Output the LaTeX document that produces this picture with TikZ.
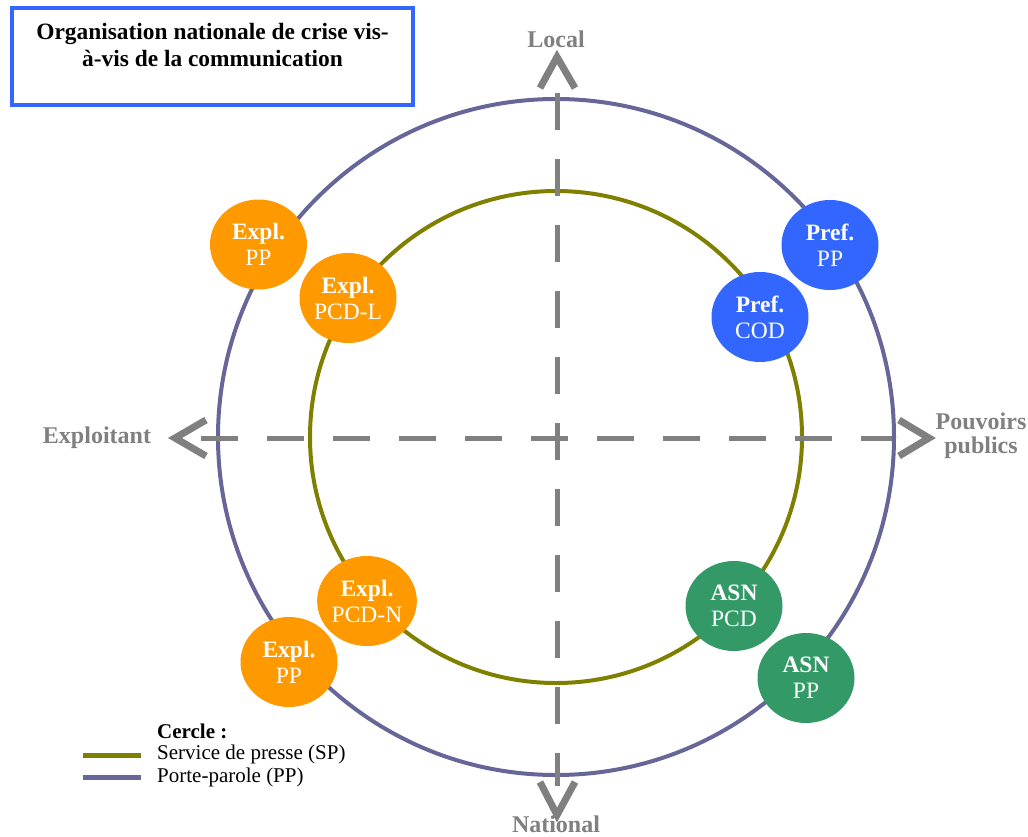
\documentclass[tikz,border=0pt]{standalone}
\usepackage{fontspec}
\setmainfont{Liberation Serif}
\definecolor{orgc}{HTML}{FF9900}
\definecolor{bluec}{HTML}{3366FF}
\definecolor{greenc}{HTML}{339966}
\definecolor{outerc}{HTML}{666699}
\definecolor{innerc}{HTML}{808000}
\definecolor{axisc}{HTML}{808080}
\begin{document}
\begin{tikzpicture}[x=1pt,y=-1pt,
  actor/.style={ellipse, minimum width=97pt, minimum height=90pt, inner sep=0pt, text=white, align=center,
    font=\fontsize{23.5}{26}\selectfont},
  axisline/.style={draw=axisc, line width=5pt, dash pattern=on 37pt off 29pt},
  chevron/.style={draw=axisc, line width=7pt, miter limit=10},
  axislabel/.style={text=axisc, font=\fontsize{24}{25}\selectfont\bfseries, align=center, inner sep=0pt},
  legtext/.style={anchor=west, inner sep=0pt, font=\fontsize{21}{23}\selectfont}
]
\usetikzlibrary{shapes.geometric}
\useasboundingbox (0,0) rectangle (1028,836);
\fill[white] (0,0) rectangle (1028,836);

% title
\node[draw=bluec, line width=4pt, minimum width=401pt, minimum height=97pt, inner sep=0pt] (titlebox) at (212.5,56.5) {};
\node[align=center, font=\fontsize{23.4}{27}\selectfont\bfseries, inner sep=0pt, anchor=north] (title) at (212.5,23)
  {Organisation nationale de crise vis-\\à-vis de la communication};

% circles
\coordinate (c) at (556,437);
\draw[outerc, line width=4pt] (c) circle[radius=338];
\draw[innerc, line width=4pt] (c) circle[radius=246];

% axes
\coordinate (vtop) at (557,93);
\coordinate (vbot) at (557,786);
\coordinate (hleft) at (201,438);
\coordinate (hright) at (892,438);
\draw[axisline] (vtop) -- (vbot);
\draw[axisline] (hleft) -- (hright);

% chevrons
\coordinate (tt) at (557,57);
\draw[chevron] (540,88) -- (tt) -- (575,88);
\coordinate (bt) at (557,815);
\draw[chevron] (540,782) -- (bt) -- (575,782);
\coordinate (lt) at (175,438);
\draw[chevron] (206,420) -- (lt) -- (206,456);
\coordinate (rt) at (929,438);
\draw[chevron] (899,420) -- (rt) -- (899,456);

% axis labels
\node[axislabel] (local) at (556,39) {Local};
\node[axislabel] (national) at (556,824) {National};
\node[axislabel] (exploitant) at (97,438) {Exploitant};
\node[axislabel, font=\fontsize{24}{24}\selectfont\bfseries] (pouvoirs) at (981,436) {Pouvoirs\\publics};

% actors
\node[actor, fill=orgc] (explpp1) at (258.5,244.5) {\textbf{Expl.}\\PP};
\node[actor, fill=orgc] (explpcdl) at (348,298) {\textbf{Expl.}\\PCD-L};
\node[actor, fill=bluec] (prefpp) at (830,245) {\textbf{Pref.}\\PP};
\node[actor, fill=bluec] (prefcod) at (760,317) {\textbf{Pref.}\\COD};
\node[actor, fill=orgc] (explpcdn) at (367,601) {\textbf{Expl.}\\PCD-N};
\node[actor, fill=orgc] (explpp2) at (289,662) {\textbf{Expl.}\\PP};
\node[actor, fill=greenc] (asnpcd) at (734,606) {\textbf{ASN}\\PCD};
\node[actor, fill=greenc] (asnpp) at (806,678) {\textbf{ASN}\\PP};

% legend
\node[legtext] (legtitle) at (157,731) {\textbf{Cercle :}};
\node[legtext] (legsp) at (157,754) {Service de presse (SP)};
\node[legtext] (legpp) at (157,777) {Porte-parole (PP)};
\coordinate (lsa) at (83,755);
\coordinate (lsb) at (141,755);
\coordinate (lpa) at (83,777);
\coordinate (lpb) at (141,777);
\draw[innerc, line width=5pt] (lsa) -- (lsb);
\draw[outerc, line width=5pt] (lpa) -- (lpb);
\end{tikzpicture}
\end{document}
